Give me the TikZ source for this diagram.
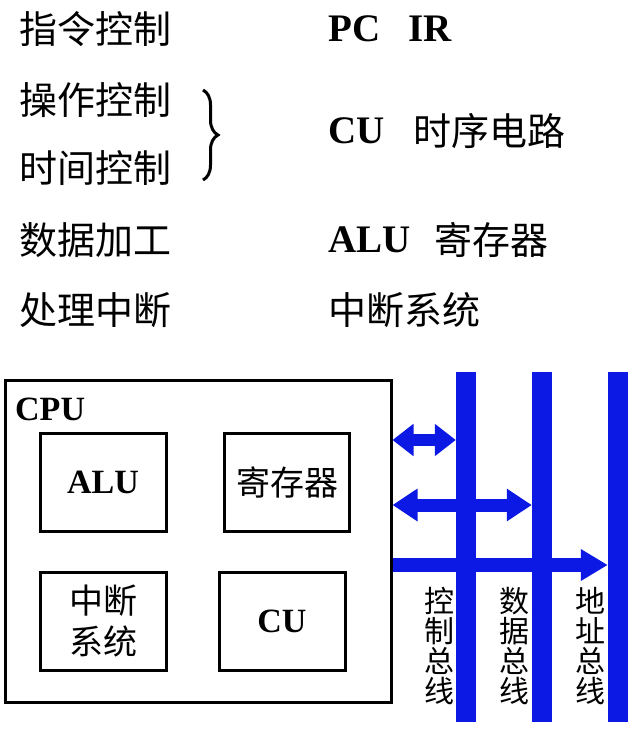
\documentclass[tikz,border=0pt]{standalone}
\usepackage{fontspec}
\setmainfont{Liberation Serif}
\newfontfamily\cjk{Noto Sans CJK SC}
\usetikzlibrary{arrows.meta,decorations.pathreplacing}
\definecolor{busblue}{RGB}{12,24,228}
\tikzset{
  lbl/.style={anchor=west,inner sep=0pt,font=\cjk\fontsize{38}{40}\selectfont},
  lat/.style={anchor=west,inner sep=0pt,font=\bfseries\fontsize{39}{40}\selectfont},
  box/.style={draw,line width=3pt,inner sep=0pt},
  bar/.style={fill=busblue,inner sep=0pt,minimum width=20pt,minimum height=350pt},
  buslbl/.style={inner sep=0pt,align=center,font=\cjk\fontsize{30}{30}\selectfont},
  busarrow/.style={draw=busblue,line width=#1pt},
}
\begin{document}
\begin{tikzpicture}[x=1pt,y=-1pt]
\useasboundingbox (0,0) rectangle (630,729);
% top table
\node[lbl] (l1) at (19,29) {指令控制};
\node[lbl] (l2) at (19,100) {操作控制};
\node[lbl] (l3) at (19,168) {时间控制};
\node[lbl] (l4) at (19,240) {数据加工};
\node[lbl] (l5) at (19,310) {处理中断};
\draw[line width=3pt,decorate,decoration={brace,amplitude=15pt}] (203,90) -- (203,180);
\node[lat] (r1) at (328,29) {PC\hspace{28pt}IR};
\node[lat] (r2a) at (328,131) {CU};
\node[lbl] (r2b) at (413,131) {时序电路};
\node[lat] (r3a) at (328,240) {ALU};
\node[lbl] (r3b) at (434,240) {寄存器};
\node[lbl] (r4) at (328,310) {中断系统};
% CPU
\node[box,minimum width=386pt,minimum height=322pt] (cpu) at (198,541) {};
\node[anchor=west,inner sep=0pt,font=\bfseries\fontsize{34}{36}\selectfont] (cpulbl) at (15,409) {CPU};
\node[box,minimum width=126pt,minimum height=98pt,font=\bfseries\fontsize{34}{36}\selectfont] (alu) at (103,482) {ALU};
\node[box,minimum width=125pt,minimum height=98pt,font=\cjk\fontsize{34}{36}\selectfont] (reg) at (287,482) {寄存器};
\node[box,minimum width=126pt,minimum height=98pt,align=center,font=\cjk\fontsize{34}{41}\selectfont] (intr) at (103,621) {中断\\系统};
\node[box,minimum width=126pt,minimum height=98pt,font=\bfseries\fontsize{34}{36}\selectfont] (cu) at (282,621) {CU};
% buses
\node[bar] (ctrl) at (466,547) {};
\node[bar] (data) at (542,547) {};
\node[bar] (addr) at (618,547) {};
\node[buslbl] (ctrllbl) at (439,646) {控\\制\\总\\线};
\node[buslbl] (datalbl) at (514,646) {数\\据\\总\\线};
\node[buslbl] (addrlbl) at (590,646) {地\\址\\总\\线};
% arrows
\coordinate (a1) at (0,440);
\coordinate (a2) at (0,505);
\coordinate (a3) at (0,565);
\draw[busarrow=12,{Triangle[length=21pt,width=31pt]}-{Triangle[length=21pt,width=31pt]}] (cpu.east |- a1) -- (ctrl.west |- a1);
\draw[busarrow=13,{Triangle[length=25pt,width=31pt]}-{Triangle[length=25pt,width=31pt]}] (cpu.east |- a2) -- (data.west |- a2);
\draw[busarrow=14,-{Triangle[length=27pt,width=30pt]}] (cpu.east |- a3) -- (addr.west |- a3);
\end{tikzpicture}
\end{document}
